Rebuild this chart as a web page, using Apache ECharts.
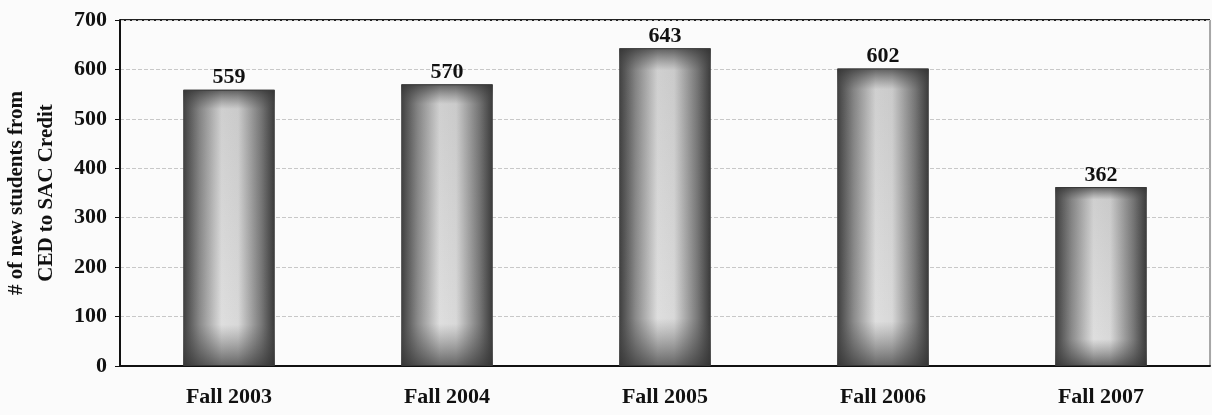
<!DOCTYPE html>
<html>
<head>
<meta charset="utf-8">
<script src="https://cdn.jsdelivr.net/npm/echarts@6/dist/echarts.min.js"></script>
<style>
  html, body { margin: 0; padding: 0; background: #fbfbfb; }
  #main { width: 1212px; height: 415px; }
</style>
</head>
<body>
<div id="main"></div>
<script>
var terms = ["Fall 2003", "Fall 2004", "Fall 2005", "Fall 2006", "Fall 2007"];
var newStudents = [559, 570, 643, 602, 362];

var serif = "'Liberation Serif', 'DejaVu Serif', serif";

// left-right shading of the bars
var barFill = new echarts.graphic.LinearGradient(0, 0, 1, 0, [
  { offset: 0, color: "#3e3e3e" },
  { offset: 0.18, color: "#8a8a8a" },
  { offset: 0.42, color: "#dedede" },
  { offset: 0.6, color: "#d8d8d8" },
  { offset: 0.85, color: "#7a7a7a" },
  { offset: 1, color: "#383838" }
]);
// top-bottom darkening laid over the same bars
var edgeShade = new echarts.graphic.LinearGradient(0, 0, 0, 1, [
  { offset: 0, color: "rgba(50,50,50,0.75)" },
  { offset: 0.07, color: "rgba(80,80,80,0.1)" },
  { offset: 0.85, color: "rgba(80,80,80,0)" },
  { offset: 1, color: "rgba(50,50,50,0.7)" }
]);

var myChart = echarts.init(document.getElementById("main"));
myChart.setOption({
  backgroundColor: "#fbfbfb",
  animation: false,
  grid: { left: 120, right: 2, top: 20, bottom: 49, outerBoundsMode: "none", containLabel: false },
  xAxis: {
    type: "category",
    data: terms,
    axisLine: { lineStyle: { color: "#111", width: 2 } },
    axisTick: { show: false },
    axisLabel: {
      color: "#111",
      fontFamily: serif,
      fontWeight: "bold",
      fontSize: 22,
      margin: 20
    }
  },
  yAxis: {
    type: "value",
    min: 0,
    max: 700,
    interval: 100,
    name: "# of new students from\nCED to SAC Credit",
    nameLocation: "middle",
    nameGap: 58,
    nameTextStyle: {
      color: "#111",
      fontFamily: serif,
      fontWeight: "bold",
      fontSize: 21,
      lineHeight: 30
    },
    axisLine: { show: true, lineStyle: { color: "#111", width: 2 } },
    axisTick: { show: true, length: 5, lineStyle: { color: "#111" } },
    axisLabel: {
      color: "#111",
      fontFamily: serif,
      fontWeight: "bold",
      fontSize: 22,
      margin: 13
    },
    splitLine: { lineStyle: { color: "#c8c8c8", type: "dashed", width: 1 } }
  },
  series: [
    {
      type: "bar",
      data: newStudents,
      barWidth: "42%",
      itemStyle: { color: barFill, borderColor: "#444", borderWidth: 1 },
      label: {
        show: true,
        position: "top",
        distance: 1,
        color: "#111",
        fontFamily: serif,
        fontWeight: "bold",
        fontSize: 22
      }
    },
    {
      type: "bar",
      data: newStudents,
      barWidth: "42%",
      barGap: "-100%",
      silent: true,
      itemStyle: { color: edgeShade }
    }
  ],
  graphic: [
    {
      type: "line",
      shape: { x1: 120, y1: 20, x2: 1210, y2: 20 },
      style: { stroke: "#222", lineWidth: 2 }
    },
    {
      type: "line",
      shape: { x1: 1210, y1: 20, x2: 1210, y2: 366 },
      style: { stroke: "#555", lineWidth: 1 }
    }
  ]
});
</script>
</body>
</html>
